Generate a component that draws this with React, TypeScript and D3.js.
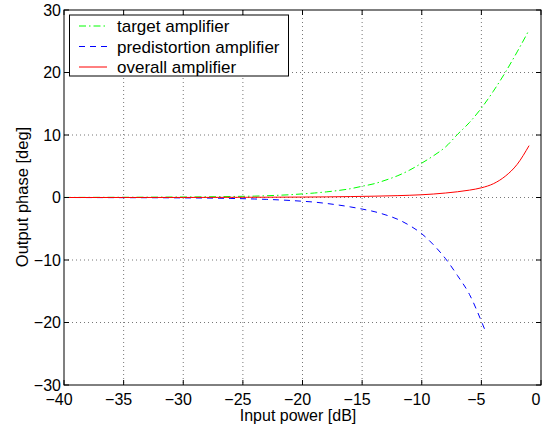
import React from "react";
import * as d3 from "d3";

const width = 555;
const height = 428;
const margin = { top: 10, right: 14, bottom: 43, left: 64 };

// (input power in dB, phase in degrees)
const targetX = [-40, -38, -36, -34, -32, -30, -28, -26, -25, -24, -23, -22, -21, -20, -19, -18, -17, -16, -15, -14, -13, -12, -11, -10, -9, -8, -7, -6, -5, -4, -3, -2, -1];
const targetY = [0.01, 0.02, 0.03, 0.04, 0.06, 0.08, 0.11, 0.16, 0.19, 0.22, 0.28, 0.36, 0.45, 0.58, 0.72, 0.9, 1.12, 1.4, 1.8, 2.2, 2.8, 3.5, 4.4, 5.5, 6.7, 8.1, 10.1, 12.0, 14.3, 17.0, 20.0, 23.3, 26.8];

const predistX = [-40, -38, -36, -34, -32, -30, -28, -26, -25, -24, -23, -22, -21, -20, -19, -18, -17, -16, -15, -14, -13, -12, -11, -10, -9, -8, -7, -6, -5, -4.7];
const predistY = [0, -0.01, -0.02, -0.03, -0.04, -0.06, -0.09, -0.15, -0.19, -0.24, -0.3, -0.38, -0.48, -0.6, -0.74, -0.95, -1.2, -1.5, -1.85, -2.25, -2.8, -3.5, -4.5, -5.8, -7.6, -9.8, -12.5, -15.5, -19.8, -21.2];

const overallX = [-40, -35, -30, -25, -20, -18, -16, -14, -12, -11, -10, -9, -8, -7, -6, -5, -4, -3, -2, -1];
const overallY = [0, 0.005, 0.01, 0.03, 0.07, 0.1, 0.15, 0.21, 0.3, 0.36, 0.44, 0.56, 0.72, 0.92, 1.18, 1.55, 2.2, 3.4, 5.3, 8.3];

const xTicks = [-40, -35, -30, -25, -20, -15, -10, -5, 0];
const yTicks = [-30, -20, -10, 0, 10, 20, 30];
const legendLabels = ["target amplifier", "predistortion amplifier", "overall amplifier"];

const font = "'Liberation Sans', Arial, Helvetica, sans-serif";

export default function App() {
  const x = d3.scaleLinear().domain([-40, 0]).range([margin.left, width - margin.right]);
  const y = d3.scaleLinear().domain([-30, 30]).range([height - margin.bottom, margin.top]);

  const line = d3.line<[number, number]>()
    .x(d => x(d[0]))
    .y(d => y(d[1]))
    .curve(d3.curveMonotoneX);

  const series = [
    { xs: targetX, ys: targetY, color: "#00ff00", dash: "7,3,1.5,3" },
    { xs: predistX, ys: predistY, color: "#0000ff", dash: "6,5" },
    { xs: overallX, ys: overallY, color: "#ff0000", dash: undefined as string | undefined },
  ];

  const x0 = x(-40), x1 = x(0), y0 = y(-30), y1 = y(30);

  return (
    <svg width={width} height={height} style={{ display: "block", position: "absolute", left: 0, top: 0 }}
      fontFamily={font}>
      <rect width={width} height={height} fill="#fff" />
      {/* grid */}
      {xTicks.slice(1, -1).map(t => (
        <line key={"gx" + t} x1={x(t)} x2={x(t)} y1={y1} y2={y0} stroke="#777" strokeDasharray="1,3" />
      ))}
      {yTicks.slice(1, -1).map(t => (
        <line key={"gy" + t} x1={x0} x2={x1} y1={y(t)} y2={y(t)} stroke="#777" strokeDasharray="1,3" />
      ))}
      {/* curves */}
      {series.map((s, i) => (
        <path key={i} d={line(s.xs.map((v, j) => [v, s.ys[j]]) as [number, number][]) || ""}
          fill="none" stroke={s.color} strokeWidth={1} strokeDasharray={s.dash} />
      ))}
      {/* ticks */}
      {xTicks.map(t => (
        <g key={"tx" + t}>
          <line x1={x(t)} x2={x(t)} y1={y0} y2={y0 - 5} stroke="#000" />
          <line x1={x(t)} x2={x(t)} y1={y1} y2={y1 + 5} stroke="#000" />
          <text x={x(t) - 5} y={405} textAnchor="middle" fontSize={16}>{t < 0 ? "\u2212" + Math.abs(t) : t}</text>
        </g>
      ))}
      {yTicks.map(t => (
        <g key={"ty" + t}>
          <line x1={x0} x2={x0 + 5} y1={y(t)} y2={y(t)} stroke="#000" />
          <line x1={x1} x2={x1 - 5} y1={y(t)} y2={y(t)} stroke="#000" />
          <text x={61} y={y(t)} dy="0.36em" textAnchor="end" fontSize={16}>{t < 0 ? "\u2212" + Math.abs(t) : t}</text>
        </g>
      ))}
      <rect x={x0} y={y1} width={x1 - x0} height={y0 - y1} fill="none" stroke="#000" />
      {/* axis labels */}
      <text x={298} y={421} textAnchor="middle" fontSize={16}>Input power [dB]</text>
      <text transform={`translate(27.5,197) rotate(-90)`} textAnchor="middle" fontSize={16.5}>Output phase [deg]</text>
      {/* legend */}
      <rect x={69.5} y={15} width={219} height={61} fill="#fff" stroke="#000" />
      {legendLabels.map((l, i) => (
        <g key={l} transform={`translate(0,${26 + i * 20.5})`}>
          <line x1={79} x2={107} y1={0} y2={0} stroke={series[i].color} strokeDasharray={series[i].dash} />
          <text x={117} y={0} dy="0.36em" fontSize={17}>{l}</text>
        </g>
      ))}
    </svg>
  );
}
